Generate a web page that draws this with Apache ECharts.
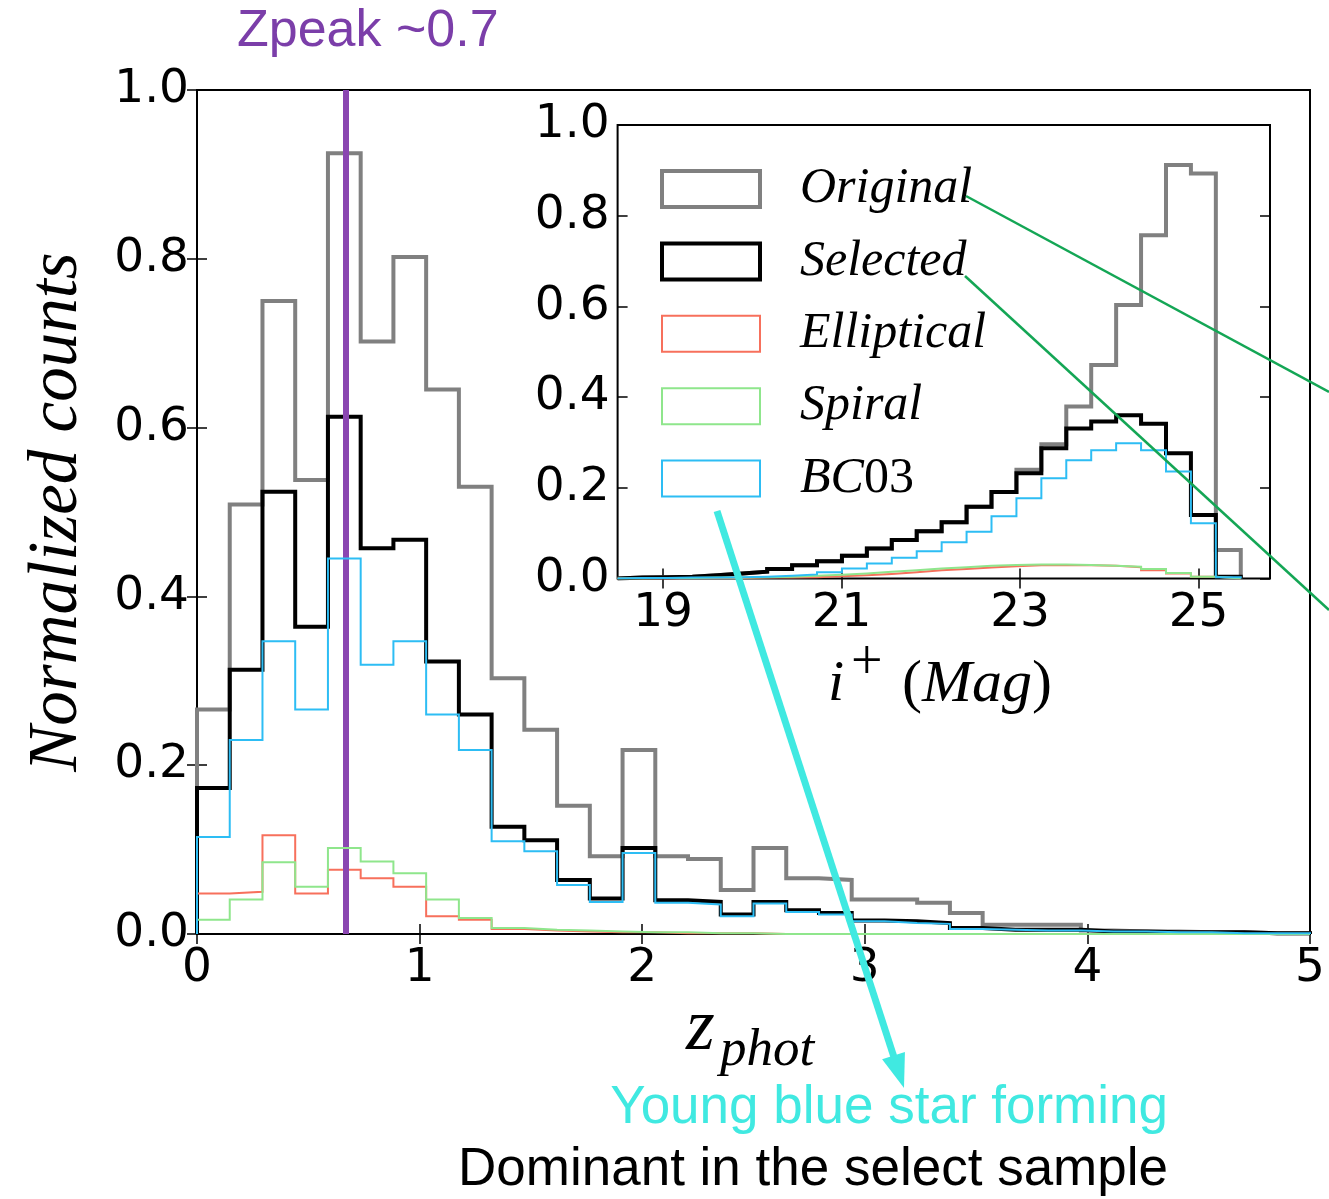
<!DOCTYPE html>
<html>
<head>
<meta charset="utf-8">
<script src="https://cdn.jsdelivr.net/npm/echarts@6/dist/echarts.min.js"></script>
<style>
  html, body { margin: 0; padding: 0; background: #fff; }
  #chart { width: 1329px; height: 1199px; }
</style>
</head>
<body>
<div id="chart"></div>
<script>
// ---- Photometric redshift histograms: 34 equal bins over 0..5 ----
const zBinStart = 0;
const zBinWidth = 5 / 34;
const zOriginal   = [0.266,0.509,0.750,0.538,0.925,0.702,0.802,0.645,0.530,0.303,0.242,0.152,0.092,0.218,0.092,0.089,0.052,0.102,0.066,0.064,0.041,0.041,0.037,0.025,0.011,0.011,0.011,0.004,0.003,0.003,0.002,0.002,0.001,0.001];
const zSelected   = [0.173,0.313,0.524,0.364,0.613,0.457,0.467,0.323,0.260,0.127,0.111,0.064,0.042,0.102,0.040,0.038,0.023,0.038,0.028,0.025,0.016,0.015,0.013,0.007,0.005,0.005,0.005,0.003,0.003,0.002,0.002,0.002,0.001,0.001];
const zElliptical = [0.048,0.050,0.117,0.048,0.076,0.066,0.056,0.021,0.017,0.006,0.004,0.003,0.002,0.002,0.001,0.001,0.001,0,0,0,0,0,0,0,0,0,0,0,0,0,0,0,0,0];
const zSpiral     = [0.017,0.041,0.085,0.056,0.102,0.086,0.072,0.041,0.019,0.007,0.005,0.004,0.003,0.002,0.002,0.001,0.001,0,0,0,0,0,0,0,0,0,0,0,0,0,0,0,0,0];
const zBC03       = [0.115,0.230,0.347,0.266,0.445,0.319,0.347,0.260,0.218,0.110,0.098,0.058,0.038,0.096,0.037,0.035,0.021,0.036,0.026,0.023,0.015,0.013,0.012,0.006,0.005,0.004,0.004,0.003,0.003,0.002,0.002,0.001,0.001,0.001];
const zPeak = 0.67;
const zAxisRange = [0, 5];

// ---- i+ magnitude histograms (inset): 25 equal bins ----
const magBinStart = 18.49;
const magBinWidth = 0.2793;
const magOriginal   = [0.002,0.003,0.004,0.007,0.011,0.015,0.021,0.029,0.038,0.050,0.066,0.085,0.104,0.124,0.158,0.191,0.240,0.296,0.379,0.471,0.603,0.757,0.912,0.893,0.063];
const magSelected   = [0.002,0.003,0.004,0.007,0.011,0.015,0.021,0.029,0.038,0.050,0.066,0.085,0.104,0.124,0.158,0.191,0.232,0.287,0.331,0.346,0.360,0.341,0.276,0.140,0.004];
const magElliptical = [0,0,0.001,0.001,0.001,0.002,0.002,0.003,0.005,0.007,0.010,0.014,0.018,0.021,0.024,0.027,0.029,0.029,0.029,0.028,0.025,0.018,0.011,0.004,0];
const magSpiral     = [0,0.001,0.001,0.002,0.002,0.003,0.004,0.006,0.008,0.011,0.015,0.018,0.022,0.025,0.028,0.030,0.031,0.031,0.030,0.028,0.026,0.021,0.012,0.004,0];
const magBC03       = [0.001,0.001,0.002,0.002,0.003,0.004,0.006,0.009,0.014,0.022,0.033,0.046,0.060,0.080,0.103,0.137,0.177,0.221,0.261,0.283,0.298,0.283,0.236,0.122,0.003];
const magAxisRange = [18.49, 25.8];
const magTickValues = [19, 21, 23, 25];

const seriesNames = ['Original', 'Selected', 'Elliptical', 'Spiral', 'BC03'];
const seriesColors = ['#808080', '#000000', '#f7705c', '#8fe68c', '#2dbdf4'];
const seriesWidths = [4, 4, 2, 2, 2];

// Outline of a step histogram: rises from zero at the first edge, holds each
// bin value to the next edge and falls back to zero after the last bin.
function stepOutline(start, width, values) {
  const pts = [[start, 0]];
  values.forEach((v, i) => pts.push([start + i * width, v]));
  const end = start + values.length * width;
  pts.push([end, values[values.length - 1]]);
  pts.push([end, 0]);
  return pts;
}

const tickFont = { fontFamily: 'DejaVu Sans', fontSize: 47, color: '#000' };
const tickStyle = { show: true, inside: true, length: 10, lineStyle: { color: '#000', width: 1.5 } };

function makeX(gridIndex, range, position, labels, extra) {
  return Object.assign({
    type: 'value', gridIndex, position, min: range[0], max: range[1],
    axisLine: { show: false },
    axisTick: tickStyle,
    splitLine: { show: false },
    axisLabel: labels
      ? Object.assign({ show: true, margin: 11, showMinLabel: true, showMaxLabel: true }, tickFont)
      : { show: false }
  }, extra || {});
}
function makeY(gridIndex, position, labels) {
  return {
    type: 'value', gridIndex, position, min: 0, max: 1, interval: 0.2,
    axisLine: { show: false },
    axisTick: tickStyle,
    splitLine: { show: false },
    axisLabel: labels
      ? Object.assign({ show: true, margin: 8, showMinLabel: true, showMaxLabel: true,
          formatter: v => v.toFixed(1) }, tickFont)
      : { show: false }
  };
}

const mainSets = [zOriginal, zSelected, zElliptical, zSpiral, zBC03];
const insetSets = [magOriginal, magSelected, magElliptical, magSpiral, magBC03];

const series = [];
mainSets.forEach((vals, i) => {
  series.push({
    name: seriesNames[i], type: 'line', xAxisIndex: 0, yAxisIndex: 0,
    step: 'end', symbol: 'none', silent: true,
    data: stepOutline(zBinStart, zBinWidth, vals),
    lineStyle: { color: seriesColors[i], width: seriesWidths[i], join: 'miter' },
    itemStyle: { color: seriesColors[i] },
    z: 2 + i
  });
});
// redshift peak marker
series[series.length - 1].markLine = {
  silent: true, symbol: ['none', 'none'], label: { show: false },
  lineStyle: { color: '#8a46b1', width: 6, type: 'solid' },
  data: [{ xAxis: zPeak }]
};
insetSets.forEach((vals, i) => {
  series.push({
    name: seriesNames[i], type: 'line', xAxisIndex: 2, yAxisIndex: 2,
    step: 'end', symbol: 'none', silent: true,
    data: stepOutline(magBinStart, magBinWidth, vals),
    lineStyle: { color: seriesColors[i], width: seriesWidths[i], join: 'miter' },
    itemStyle: { color: seriesColors[i] },
    z: 10 + i
  });
});

// Arrowhead for the annotation pointer
const arrowFrom = [717, 511], arrowTip = [904, 1088];
const adx = arrowTip[0] - arrowFrom[0], ady = arrowTip[1] - arrowFrom[1];
const alen = Math.hypot(adx, ady), ux = adx / alen, uy = ady / alen;
const headLen = 34, headHalf = 12;
const baseX = arrowTip[0] - ux * headLen, baseY = arrowTip[1] - uy * headLen;

const serif = 'Liberation Serif';

const option = {
  animation: false,
  backgroundColor: '#fff',
  grid: [
    { left: 197, top: 90, width: 1113, height: 844, show: true, borderColor: '#000', borderWidth: 2, backgroundColor: 'transparent', containLabel: false },
    { left: 617.6, top: 125, width: 652.4, height: 453.5, show: true, borderColor: '#000', borderWidth: 2, backgroundColor: '#fff', containLabel: false }
  ],
  xAxis: [
    makeX(0, zAxisRange, 'bottom', true, { interval: 1 }),
    makeX(0, zAxisRange, 'top', false, { interval: 1 }),
    makeX(1, magAxisRange, 'bottom', true, {
      axisLabel: Object.assign({ show: true, margin: 12, customValues: magTickValues }, tickFont),
      axisTick: Object.assign({}, tickStyle, { customValues: magTickValues })
    }),
    makeX(1, magAxisRange, 'top', false, {
      axisTick: Object.assign({}, tickStyle, { customValues: magTickValues })
    })
  ],
  yAxis: [
    makeY(0, 'left', true),
    makeY(0, 'right', false),
    makeY(1, 'left', true),
    makeY(1, 'right', false)
  ],
  legend: {
    orient: 'vertical', left: 655, top: 159,
    itemWidth: 98, itemHeight: 36, itemGap: 22.4,
    selectedMode: false,
    formatter: name => name === 'BC03' ? '{it|BC}{up|03}' : '{it|' + name + '}',
    textStyle: {
      padding: [0, 0, 0, 35], lineHeight: 36,
      rich: {
        it: { fontFamily: serif, fontStyle: 'italic', fontSize: 50, color: '#000', lineHeight: 36 },
        up: { fontFamily: serif, fontSize: 50, color: '#000', lineHeight: 36 }
      }
    },
    data: seriesNames.map((n, i) => ({
      name: n, icon: 'rect',
      itemStyle: { color: 'transparent', borderColor: seriesColors[i], borderWidth: seriesWidths[i] }
    }))
  },
  series,
  graphic: [
    { type: 'text', z: 100, x: 237, y: 32, style: { text: 'Zpeak ~0.7', fontFamily: 'Liberation Sans', fontSize: 52, fill: '#7b3ea9', verticalAlign: 'middle', align: 'left' } },
    { type: 'text', z: 100, x: 58, y: 512, rotation: Math.PI / 2,
      style: { text: 'Normalized counts', fontFamily: serif, fontStyle: 'italic', fontSize: 69, fill: '#000', align: 'center', verticalAlign: 'middle' } },
    { type: 'text', z: 100, x: 686, y: 1030, style: { text: 'z', fontFamily: serif, fontStyle: 'italic', fontSize: 74, fill: '#000', verticalAlign: 'middle' } },
    { type: 'text', z: 100, x: 720, y: 1051, style: { text: 'phot', fontFamily: serif, fontStyle: 'italic', fontSize: 53, fill: '#000', verticalAlign: 'middle' } },
    { type: 'text', z: 100, x: 828, y: 685, style: { text: 'i', fontFamily: serif, fontStyle: 'italic', fontSize: 58, fill: '#000', verticalAlign: 'middle' } },
    { type: 'text', z: 100, x: 851, y: 664, style: { text: '+', fontFamily: serif, fontSize: 56, fill: '#000', verticalAlign: 'middle' } },
    { type: 'text', z: 100, x: 902, y: 685, style: { text: '{p|(}{it|Mag}{p|)}', verticalAlign: 'middle',
      rich: { p: { fontFamily: serif, fontSize: 60, fill: '#000' }, it: { fontFamily: serif, fontStyle: 'italic', fontSize: 60, fill: '#000' } } } },
    { type: 'line', z: 100, shape: { x1: 966, y1: 196, x2: 1329, y2: 392 }, style: { stroke: '#14a655', lineWidth: 2.5 } },
    { type: 'line', z: 100, shape: { x1: 965, y1: 276, x2: 1329, y2: 610 }, style: { stroke: '#14a655', lineWidth: 2.5 } },
    { type: 'line', z: 100, shape: { x1: arrowFrom[0], y1: arrowFrom[1], x2: baseX + ux * 4, y2: baseY + uy * 4 }, style: { stroke: '#40e9e1', lineWidth: 7 } },
    { type: 'polygon', z: 100, shape: { points: [
        arrowTip,
        [baseX - uy * headHalf, baseY + ux * headHalf],
        [baseX + uy * headHalf, baseY - ux * headHalf]
      ] }, style: { fill: '#40e9e1' } },
    { type: 'text', z: 100, x: 1168, y: 1108, style: { text: 'Young blue star forming', fontFamily: 'Liberation Sans', fontSize: 53, fill: '#40e9e1', align: 'right', verticalAlign: 'middle' } },
    { type: 'text', z: 100, x: 1168, y: 1170, style: { text: 'Dominant in the select sample', fontFamily: 'Liberation Sans', fontSize: 53, fill: '#000', align: 'right', verticalAlign: 'middle' } }
  ]
};

const chart = echarts.init(document.getElementById('chart'), null, { renderer: 'canvas' });
chart.setOption(option);
</script>
</body>
</html>
